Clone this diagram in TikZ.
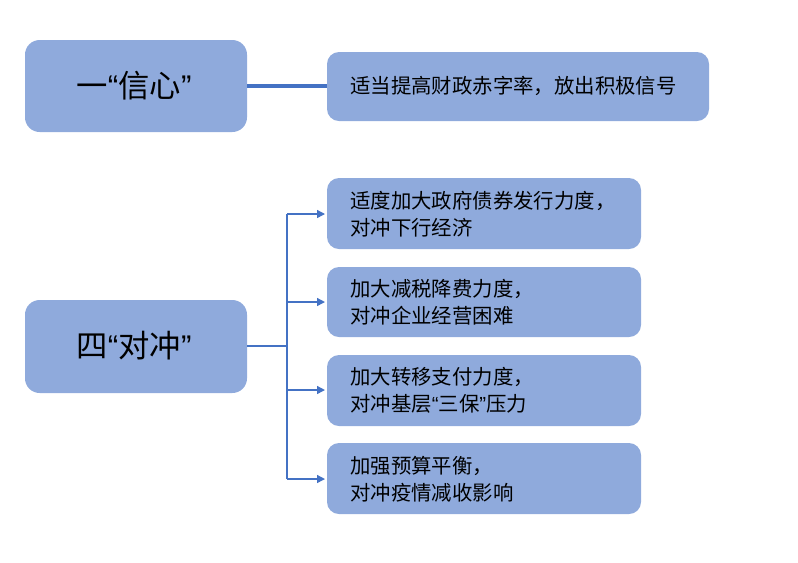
\documentclass[tikz,border=0pt]{standalone}
\usepackage{fontspec}
\setmainfont{Noto Sans CJK SC}
\newfontfamily\latinq{Liberation Sans}
\usetikzlibrary{arrows.meta}
\definecolor{boxfill}{HTML}{8FAADC}
\definecolor{linecol}{HTML}{4472C4}
\newcommand{\myLq}{{\latinq “}}
\newcommand{\myRq}{{\latinq ”}}
\begin{document}
\begin{tikzpicture}[x=0.75pt,y=-0.75pt,
  bigbox/.style={fill=boxfill,draw=none,rounded corners=11pt},
  smallbox/.style={fill=boxfill,draw=none,rounded corners=9pt},
  bigtext/.style={font=\fontsize{23.5}{28}\selectfont,inner sep=0pt},
  boxtext/.style={font=\fontsize{15.3}{20}\selectfont,align=left,anchor=west,inner sep=0pt},
  conn/.style={draw=linecol,line width=1pt},
  arr/.style={draw=linecol,line width=1pt,-{Triangle[length=6pt,width=6pt]}}]
\useasboundingbox (0,0) rectangle (798,562);
% left boxes
\fill[bigbox] (25,40) rectangle (247,132);
\node[bigtext] (xin) at (134,86) {一\myLq 信心\myRq};
\fill[bigbox] (25,300) rectangle (247,393);
\node[bigtext] (dui) at (134,346) {四\myLq 对冲\myRq};
\coordinate (L1) at (247,86);
\coordinate (L2) at (247,346);
% right boxes
\fill[smallbox] (327,52) rectangle (709,121);
\coordinate (R0) at (327,86);
\node[boxtext] (t0) at (350,86) {适当提高财政赤字率，放出积极信号};
\fill[smallbox] (327,178) rectangle (641,249);
\node[boxtext] (t1) at (350,214) {适度加大政府债券发行力度，\\对冲下行经济};
\fill[smallbox] (327,267) rectangle (641,337);
\node[boxtext] (t2) at (350,302) {加大减税降费力度，\\对冲企业经营困难};
\fill[smallbox] (327,355) rectangle (641,426);
\node[boxtext] (t3) at (350,390) {加大转移支付力度，\\对冲基层\myLq 三保\myRq 压力};
\fill[smallbox] (327,443) rectangle (641,514);
\node[boxtext] (t4) at (350,479) {加强预算平衡，\\对冲疫情减收影响};
\coordinate (A1) at (325,214);
\coordinate (A2) at (325,302);
\coordinate (A3) at (325,390);
\coordinate (A4) at (325,479);
\coordinate (B1) at (287,214);
\coordinate (B2) at (287,302);
\coordinate (B3) at (287,390);
\coordinate (B4) at (287,479);
\coordinate (J) at (287,346);
% connectors
\draw[draw=linecol,line width=2.3pt] (L1) -- (R0);
\draw[conn] (L2) -- (J);
\draw[conn] (B1) -- (B4);
\draw[arr] (B1) -- (A1);
\draw[arr] (B2) -- (A2);
\draw[arr] (B3) -- (A3);
\draw[arr] (B4) -- (A4);
\end{tikzpicture}
\end{document}
